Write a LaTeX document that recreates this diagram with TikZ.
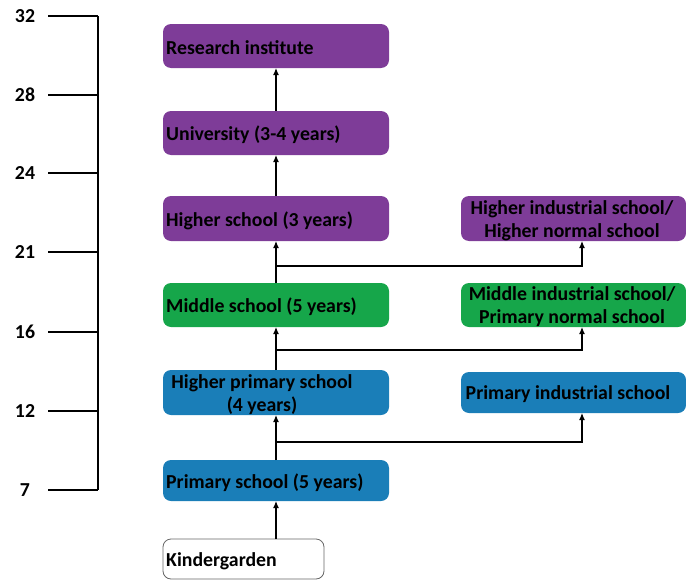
\documentclass[tikz,border=0pt]{standalone}
\usepackage{fontspec}
\setmainfont{Carlito}
\usetikzlibrary{arrows.meta}
\definecolor{bpurple}{RGB}{126,60,152}
\definecolor{bgreen}{RGB}{22,166,74}
\definecolor{bblue}{RGB}{26,126,184}
\tikzset{
  box/.style={rounded corners=8pt, inner sep=0pt, font=\bfseries\fontsize{19.8}{23}\selectfont},
  lbl/.style={box, yshift=-1.5pt},
  purplebox/.style={box, fill=bpurple},
  greenbox/.style={box, fill=bgreen},
  bluebox/.style={box, fill=bblue},
  whitebox/.style={box, fill=white, draw=black!60, line width=0.8pt},
  conn/.style={line width=1.2pt, -{Latex[length=7pt,width=6pt]}},
  axisline/.style={line width=1.2pt},
  ticklab/.style={font=\bfseries\fontsize{19.8}{23}\selectfont}
}
\begin{document}
\begin{tikzpicture}[x=1pt,y=-1pt]
\useasboundingbox (0,0) rectangle (686,581);
% axis
\draw[axisline] (98,16) -- (98,490);
\foreach \yy/\lab [count=\i] in {16/32,95/28,173/24,252/21,332/16,411/12,490/7}{
  \draw[axisline] (48,\yy) -- (98,\yy);
  \node[ticklab] (t\i) at (25,\yy) {\lab};
}
% boxes left
\path[purplebox] (163,24) rectangle (389,68);
\node[lbl, anchor=west] (ri) at (166,46) {Research institute};
\path[purplebox] (163,111) rectangle (389,155);
\node[lbl, anchor=west] (un) at (166,133) {University (3-4 years)};
\path[purplebox] (163,196) rectangle (389,241);
\node[lbl, anchor=west] (hs) at (166,219) {Higher school (3 years)};
\path[greenbox] (163,283) rectangle (389,327);
\node[lbl, anchor=west] (ms) at (166,305) {Middle school (5 years)};
\path[bluebox] (163,370) rectangle (389,415);
\node[lbl, align=center] (hp) at (262,393) {Higher primary school\\(4 years)};
\path[bluebox] (163,460) rectangle (389,501);
\node[lbl, anchor=west] (ps) at (166,481) {Primary school (5 years)};
\path[whitebox] (163,539) rectangle (324,579);
\node[lbl, anchor=west] (kg) at (166,560) {Kindergarden};
% boxes right
\path[purplebox] (461,196) rectangle (686,241);
\node[lbl, align=center] (hi) at (572,219) {Higher industrial school/\\Higher normal school};
\path[greenbox] (461,283) rectangle (686,327);
\node[lbl, align=center] (mi) at (572,305) {Middle industrial school/\\Primary normal school};
\path[bluebox] (461,372) rectangle (686,413);
\node[lbl] (pi) at (568,393) {Primary industrial school};
% coordinates
\coordinate (riB) at (276,68);
\coordinate (unT) at (276,111);
\coordinate (unB) at (276,155);
\coordinate (hsT) at (276,196);
\coordinate (hsB) at (276,241);
\coordinate (msT) at (276,283);
\coordinate (msB) at (276,327);
\coordinate (hpT) at (276,370);
\coordinate (hpB) at (276,415);
\coordinate (psT) at (276,460);
\coordinate (psB) at (276,501);
\coordinate (kgT) at (276,539);
\coordinate (j1) at (276,266);
\coordinate (j2) at (276,350);
\coordinate (j3) at (276,442);
\coordinate (hiB) at (582,241);
\coordinate (miB) at (582,327);
\coordinate (piB) at (582,413);
% connectors
\draw[conn] (unT) -- (riB);
\draw[conn] (hsT) -- (unB);
\draw[conn] (msT) -- (hsB);
\draw[conn] (hpT) -- (msB);
\draw[conn] (psT) -- (hpB);
\draw[conn] (kgT) -- (psB);
\draw[conn] (j1) -| (hiB);
\draw[conn] (j2) -| (miB);
\draw[conn] (j3) -| (piB);
\end{tikzpicture}
\end{document}
